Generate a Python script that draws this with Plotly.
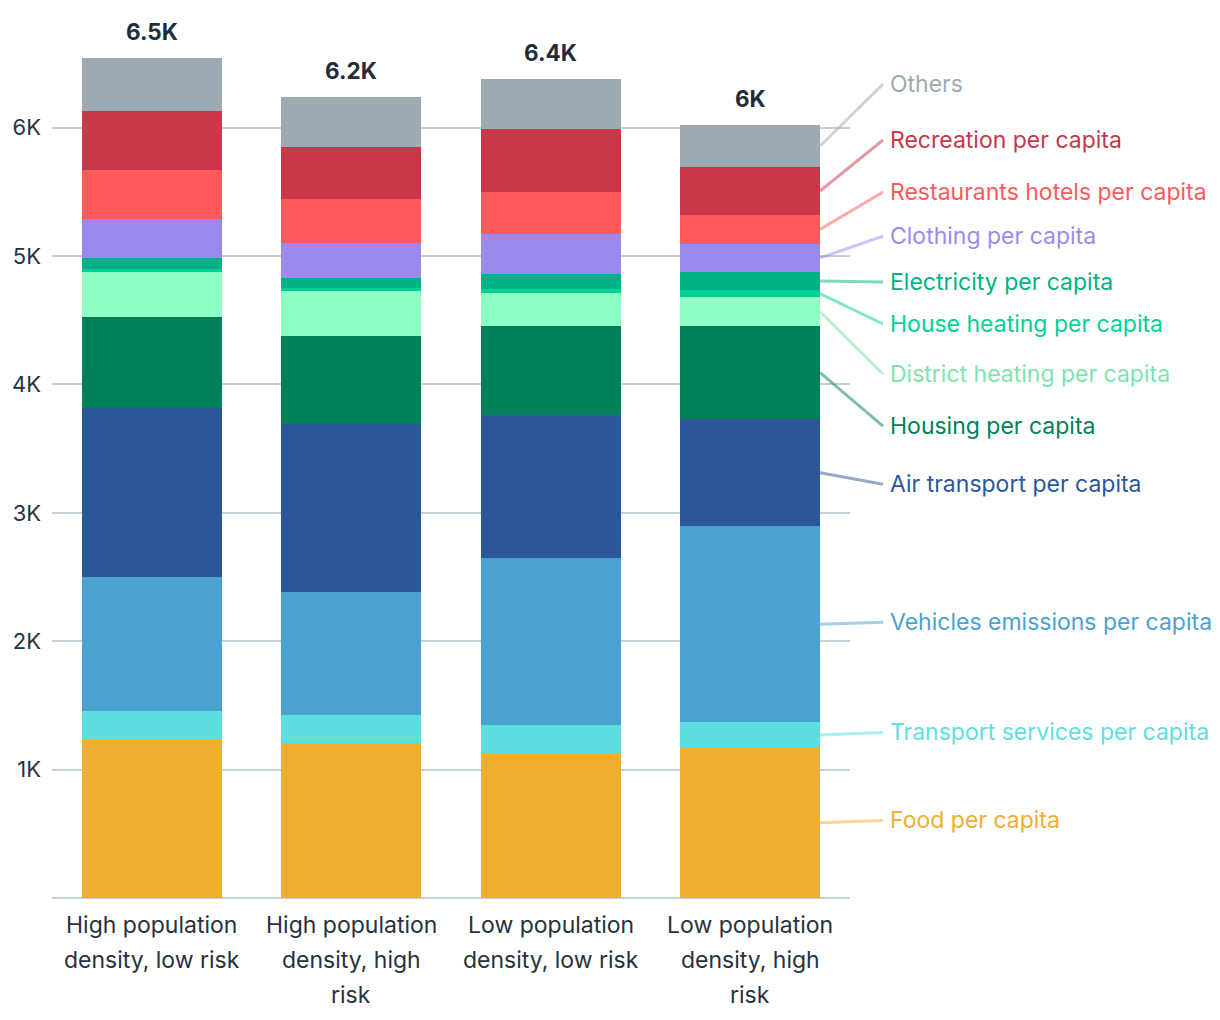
import plotly.graph_objects as go

categories = [
    "High population density, low risk",
    "High population density, high risk",
    "Low population density, low risk",
    "Low population density, high risk",
]
category_label_lines = [
    ["High population", "density, low risk"],
    ["High population", "density, high", "risk"],
    ["Low population", "density, low risk"],
    ["Low population", "density, high", "risk"],
]

series_names = [
    "Food per capita",
    "Transport services per capita",
    "Vehicles emissions per capita",
    "Air transport per capita",
    "Housing per capita",
    "District heating per capita",
    "House heating per capita",
    "Electricity per capita",
    "Clothing per capita",
    "Restaurants hotels per capita",
    "Recreation per capita",
    "Others",
]

food = [1230, 1204, 1126, 1173]
transport_services = [224, 218, 218, 195]
vehicles = [1044, 959, 1302, 1528]
air_transport = [1317, 1309, 1115, 834]
housing = [710, 686, 693, 724]
district_heating = [350, 351, 258, 226]
house_heating = [24, 24, 31, 55]
electricity = [85, 78, 117, 140]
clothing = [304, 272, 314, 221]
restaurants = [382, 343, 325, 224]
recreation = [463, 406, 491, 374]
others = [407, 389, 389, 327]

series_values = [food, transport_services, vehicles, air_transport, housing,
                 district_heating, house_heating, electricity, clothing,
                 restaurants, recreation, others]

tick_values = [1000, 2000, 3000, 4000, 5000, 6000]
tick_labels = ["1K", "2K", "3K", "4K", "5K", "6K"]

# styles
fill_colors = ["#EEAF30", "#5EDFDF", "#4AA2D1", "#2B5799", "#008059", "#8FFFC3",
               "#00D196", "#00B283", "#9B8AED", "#FF5A5A", "#C8374A", "#9DAAB1"]
text_colors = ["#EEAF30", "#5EDFDF", "#4AA2D1", "#2B5799", "#008059", "#7FE3AC",
               "#00D196", "#00B283", "#9B8AED", "#FF5A5A", "#C8374A", "#9DAAB1"]
# label vertical positions (layout of the right-hand legend, in axis units)
label_pos = [604, 1290, 2148, 3223, 3675, 4081, 4471, 4798, 5156, 5499, 5904, 6340]

FONT = "Inter"
TEXT_COLOR = "#27323C"
Y_MAX = 6800
BARGAP = 0.3

fig = go.Figure()
for name, vals, col in zip(series_names, series_values, fill_colors):
    fig.add_trace(go.Bar(
        name=name, x=categories, y=vals,
        marker=dict(color=col, line=dict(width=0)),
        showlegend=False,
    ))

# totals
totals = [sum(s[i] for s in series_values) for i in range(len(categories))]

def fmt_k(v):
    s = f"{v/1000:.1f}"
    if s.endswith(".0"):
        s = s[:-2]
    return s + "K"

annotations = []
for cat, tot in zip(categories, totals):
    annotations.append(dict(
        x=cat, y=tot, xref="x", yref="y", text=f"<b>{fmt_k(tot)}</b>",
        showarrow=False, yanchor="bottom", yshift=11,
        font=dict(family=FONT, size=22.5, color="#232D36", weight=800),
    ))

# category labels (one annotation per line, for the wider line spacing)
for cat, lines in zip(categories, category_label_lines):
    for k, line in enumerate(lines):
        annotations.append(dict(
            x=cat, y=0, xref="x", yref="paper", text=line,
            showarrow=False, yanchor="middle", yshift=-27 - 35 * k,
            font=dict(family=FONT, size=23, color=TEXT_COLOR),
        ))

# right-hand labels and connectors from the last bar
n = len(categories)
last = n - 1
bar_right_paper = (last + 0.5 + (1 - BARGAP) / 2) / n
line_end_paper = 1.0414
label_x_paper = 1.047

shapes = []
cum = 0
for name, vals, tcol, lpos in zip(series_names, series_values, text_colors, label_pos):
    mid = cum + vals[last] / 2
    cum += vals[last]
    shapes.append(dict(
        type="line", xref="paper", yref="paper",
        x0=bar_right_paper, y0=mid / Y_MAX,
        x1=line_end_paper, y1=lpos / Y_MAX,
        line=dict(color=tcol, width=3), opacity=0.5, layer="above",
    ))
    annotations.append(dict(
        x=label_x_paper, y=lpos, xref="paper", yref="y", text=name,
        showarrow=False, xanchor="left", yanchor="middle",
        font=dict(family=FONT, size=23, color=tcol),
    ))

fig.update_layout(
    width=1220, height=1020,
    margin=dict(l=52, r=370, t=25, b=122),
    barmode="stack", bargap=BARGAP,
    plot_bgcolor="white", paper_bgcolor="white",
    font=dict(family=FONT, size=21, color=TEXT_COLOR),
    annotations=annotations, shapes=shapes,
    xaxis=dict(
        showticklabels=False,
        showgrid=False, showline=False, zeroline=False, ticks="",
        fixedrange=True,
    ),
    yaxis=dict(
        range=[0, Y_MAX], tickmode="array", tickvals=tick_values, ticktext=tick_labels,
        showgrid=True, gridcolor="#C5D0D7", gridwidth=2,
        zeroline=True, zerolinecolor="#C5D0D7", zerolinewidth=2,
        showline=False, ticks="", ticklabelstandoff=10,
        tickfont=dict(family=FONT, size=22, color=TEXT_COLOR),
    ),
    hovermode=False,
)

fig.write_html("out.html", config={"displayModeBar": False},
               post_script="document.body.style.margin='0';")
